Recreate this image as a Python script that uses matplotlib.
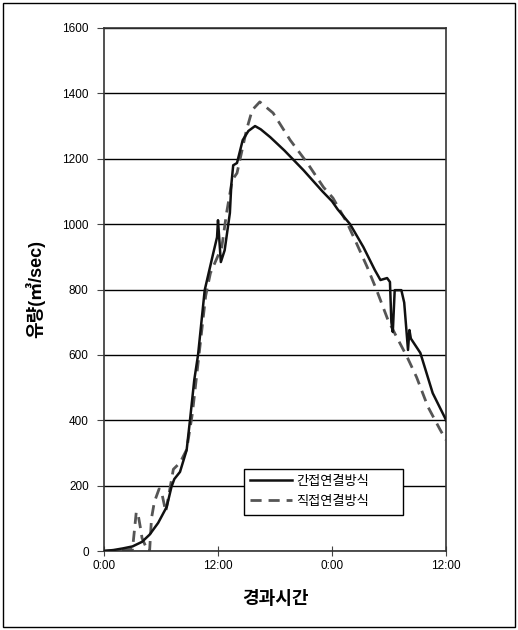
import matplotlib
matplotlib.use('agg')
import matplotlib.pyplot as plt
from matplotlib.patches import Rectangle

plt.rcParams['font.family'] = ['Liberation Sans', 'Noto Sans CJK KR', 'DejaVu Sans']

# elapsed hours / flow (m3/sec)
t_indirect = [0, 1.0, 2.0, 3.0, 4.0, 4.8, 5.7, 6.6, 7.1, 7.4, 8.0, 8.7, 9.05, 9.5, 9.9, 10.6,
              11.5, 11.9, 12.0, 12.3, 12.7, 13.25, 13.4, 13.6, 14.0, 14.6, 15.2, 15.9, 16.5,
              17.5, 19.0, 21.0, 23.0, 24.0, 24.6, 25.9, 27.3, 28.5, 29.1, 29.8, 30.1, 30.25,
              30.4, 30.6, 31.3, 31.6, 32.0, 32.15, 32.3, 33.3, 34.6, 35.9, 36.0]
q_indirect = [0, 3, 8, 14, 28, 50, 86, 135, 196, 220, 242, 309, 400, 523, 600, 798,
              911, 960, 1012, 884, 920, 1034, 1120, 1180, 1187, 1257, 1285, 1300, 1290,
              1266, 1225, 1165, 1100, 1070, 1045, 1000, 930, 860, 829, 835, 823, 700,
              670, 798, 798, 760, 615, 676, 650, 606, 483, 407, 400]

t_direct = [0, 3.0, 3.4, 3.6, 3.9, 4.0, 4.6, 4.8, 5.0, 5.3, 5.8, 6.1, 6.5, 7.0, 7.3, 8.0,
            8.7, 9.3, 10.0, 10.7, 11.2, 11.8, 12.4, 12.9, 13.5, 14.0, 15.0, 15.6, 16.4,
            17.8, 19.6, 21.4, 23.1, 24.1, 25.6, 26.6, 27.7, 28.7, 29.9, 30.8, 31.9, 32.9,
            34.1, 35.4, 36.0]
q_direct = [0, 5, 120, 110, 60, 40, 0, 0, 100, 150, 190, 175, 120, 200, 250, 270,
            310, 420, 600, 780, 850, 890, 930, 1034, 1135, 1156, 1288, 1349, 1374,
            1340, 1257, 1187, 1113, 1080, 1003, 940, 869, 798, 706, 655, 594, 532,
            441, 370, 340]

x_ticks = [0, 12, 24, 36]
x_labels = ['0:00', '12:00', '0:00', '12:00']
y_ticks = [0, 200, 400, 600, 800, 1000, 1200, 1400, 1600]

fig = plt.figure(figsize=(5.18, 6.30), dpi=100)
ax = fig.add_axes([104 / 518, 79 / 630, 342 / 518, 523 / 630])

ax.plot(t_indirect, q_indirect, color='#111111', lw=1.8, label='간접연결방식', zorder=3)
ax.plot(t_direct, q_direct, color='#555555', lw=2.0, ls=(0, (4, 2.5)), label='직접연결방식', zorder=2)

ax.set_xlim(0, 36)
ax.set_ylim(0, 1600)
ax.set_xticks(x_ticks)
ax.set_xticklabels(x_labels)
ax.set_yticks(y_ticks)
ax.yaxis.grid(True, color='black', lw=1.0)
ax.set_axisbelow(True)
ax.tick_params(axis='x', direction='inout', length=7, labelsize=8.5, pad=3, color='#444444')
ax.tick_params(axis='y', direction='out', length=5, labelsize=8.5, pad=6, color='#444444')
for s in ax.spines.values():
    s.set_color('#333333')
    s.set_linewidth(1.2)

ax.set_xlabel('경과시간', fontsize=13, fontweight='bold', labelpad=14)
ax.set_ylabel('유량(㎥/sec)', fontsize=13, fontweight='bold', labelpad=12)

leg = ax.legend(loc='lower left', bbox_to_anchor=(0.389, 0.057, 0.506, 0.096), mode='expand',
                fancybox=False, framealpha=1, edgecolor='black', fontsize=9.5,
                handlelength=3.2, handletextpad=0.3, borderpad=0.5, labelspacing=0.6)
leg.get_frame().set_linewidth(1.0)

# outer frame around the whole picture
fig.patches.append(Rectangle((3 / 518, 3 / 630), 512 / 518, 624 / 630, transform=fig.transFigure,
                             fill=False, edgecolor='black', lw=1.0))

fig.savefig('out.png', dpi=100)
